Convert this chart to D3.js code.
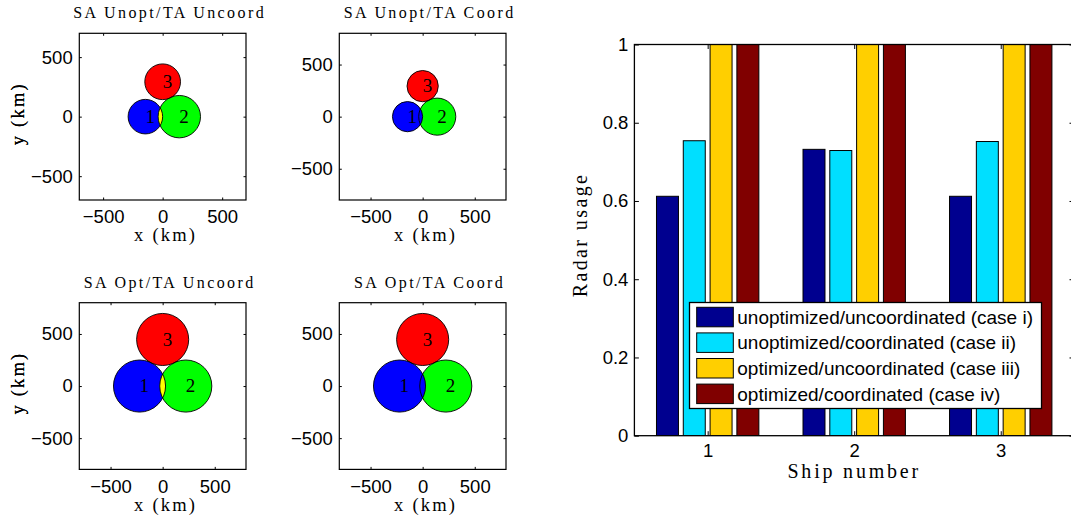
<!DOCTYPE html>
<html>
<head>
<meta charset="utf-8">
<script src="https://cdn.jsdelivr.net/npm/d3@7"></script>
<style>
body { margin: 0; background: #fff; }
svg { display: block; }
.tick text { font-family: "Liberation Sans", Arial, sans-serif; font-size: 18.5px; fill: #000; }
.tick line { stroke: #000; stroke-width: 1; }
.serif { font-family: "Liberation Serif", "Times New Roman", serif; fill: #000; }
.legend text { font-family: "Liberation Sans", Arial, sans-serif; font-size: 19px; fill: #000; }
</style>
</head>
<body>
<script>
// four scenario panels
const panelTitles = ["SA Unopt/TA Uncoord", "SA Unopt/TA Coord", "SA Opt/TA Uncoord", "SA Opt/TA Coord"];
const panelLimits = [700, 800, 800, 800];
const panelCoord = [false, true, false, true];
const panelTicks = [-500, 0, 500];

// ship positions (km) and radar ranges (km)
const shipIds = ["1", "2", "3"];
const unoptX = [-145, 140, 0];
const unoptY = [0, 0, 293];
const unoptR = [145, 178, 150];
const optX = [-222, 222, 0];
const optY = [0, 0, 447];
const optR = [250, 250, 250];

// radar usage per ship for the four cases
const shipNumbers = [1, 2, 3];
const caseNames = ["unoptimized/uncoordinated (case i)", "unoptimized/coordinated (case ii)",
                   "optimized/uncoordinated (case iii)", "optimized/coordinated (case iv)"];
const caseI = [0.612, 0.732, 0.612];
const caseII = [0.754, 0.729, 0.752];
const caseIII = [1, 1, 1];
const caseIV = [1, 1, 1];
const usageTicks = [0, 0.2, 0.4, 0.6, 0.8, 1];

const shipColors = ["#0000ff", "#00ff00", "#ff0000"];
const caseColors = ["#00008f", "#00dfff", "#ffcf00", "#800000"];

const svg = d3.select("body").append("svg")
    .attr("width", 1071)
    .attr("height", 523);

svg.append("rect").attr("width", 1071).attr("height", 523).attr("fill", "#fff");

const panelSize = 166.7;
const panelPos = [[79.3, 33.3], [339.3, 33.3], [79.3, 302.7], [339.3, 302.7]];

function drawPanel(k, xs, ys, rs) {
  let [px, py] = panelPos[k];
  let lim = panelLimits[k];
  let g = svg.append("g").attr("transform", "translate(" + px + "," + py + ")");
  let x = d3.scaleLinear().domain([-lim, lim]).range([0, panelSize]);
  let y = d3.scaleLinear().domain([-lim, lim]).range([panelSize, 0]);
  let rpx = r => x(r) - x(0);

  let ships = shipIds.map((id, i) => ({id: id, i: i, x: xs[i], y: ys[i], r: rs[i]}));

  g.append("rect")
    .attr("width", panelSize).attr("height", panelSize)
    .attr("fill", "#fff");

  // coordinated: overlaps handed to one ship by drawing order
  let order = panelCoord[k] ? [1, 2, 0] : [0, 1, 2];
  g.selectAll("circle.fill")
    .data(order.map(i => ships[i]))
    .enter().append("circle")
    .attr("class", "fill")
    .attr("cx", d => x(d.x)).attr("cy", d => y(d.y)).attr("r", d => rpx(d.r))
    .attr("fill", d => shipColors[d.i]);

  // uncoordinated: overlapping coverage shown in yellow
  if (!panelCoord[k]) {
    ships.forEach((a, i) => {
      ships.forEach((b, j) => {
        if (j <= i) return;
        let id = "clip" + k + "_" + i + "_" + j;
        svg.append("clipPath").attr("id", id)
          .append("circle")
          .attr("cx", x(b.x)).attr("cy", y(b.y)).attr("r", rpx(b.r));
        g.append("circle")
          .attr("cx", x(a.x)).attr("cy", y(a.y)).attr("r", rpx(a.r))
          .attr("fill", "#ffff00")
          .attr("clip-path", "url(#" + id + ")");
      });
    });
  }

  g.selectAll("circle.edge")
    .data(ships)
    .enter().append("circle")
    .attr("class", "edge")
    .attr("cx", d => x(d.x)).attr("cy", d => y(d.y)).attr("r", d => rpx(d.r))
    .attr("fill", "none").attr("stroke", "#000").attr("stroke-width", 0.9);

  g.selectAll("text.label")
    .data(ships)
    .enter().append("text")
    .attr("class", "serif label")
    .attr("x", d => x(d.x)).attr("y", d => y(d.y))
    .attr("dy", "0.33em")
    .style("font-size", "19px")
    .text(d => d.id);

  // axes with inward ticks
  g.append("g").attr("transform", "translate(0," + panelSize + ")")
    .call(d3.axisBottom(x).tickValues(panelTicks).tickSize(-2.5).tickPadding(10))
    .call(a => a.select(".domain").remove());
  g.append("g")
    .call(d3.axisTop(x).tickValues(panelTicks).tickSize(-2.5).tickFormat(""))
    .call(a => a.select(".domain").remove());
  g.append("g")
    .call(d3.axisLeft(y).tickValues(panelTicks).tickSize(-2.5).tickPadding(6.6))
    .call(a => a.select(".domain").remove());
  g.append("g").attr("transform", "translate(" + panelSize + ",0)")
    .call(d3.axisRight(y).tickValues(panelTicks).tickSize(-2.5).tickFormat(""))
    .call(a => a.select(".domain").remove());

  g.append("rect")
    .attr("width", panelSize).attr("height", panelSize)
    .attr("fill", "none").attr("stroke", "#000").attr("stroke-width", 1.2);

  g.append("text")
    .attr("class", "serif")
    .attr("x", panelSize / 2 + 7).attr("y", -15)
    .attr("text-anchor", "middle")
    .style("font-size", "16px").style("letter-spacing", "2.4px")
    .text(panelTitles[k]);

  g.append("text")
    .attr("class", "serif")
    .attr("x", panelSize / 2 + 3).attr("y", panelSize + 41.5)
    .attr("text-anchor", "middle")
    .style("font-size", "18.5px").style("letter-spacing", "2.2px")
    .text("x (km)");

  g.append("text")
    .attr("class", "serif")
    .attr("transform", "translate(" + (-px + 24) + "," + (panelSize / 2 - 3) + ") rotate(-90)")
    .attr("text-anchor", "middle")
    .style("font-size", "18.5px").style("letter-spacing", "2.2px")
    .text("y (km)");
}

drawPanel(0, unoptX, unoptY, unoptR);
drawPanel(1, unoptX, unoptY, unoptR);
drawPanel(2, optX, optY, optR);
drawPanel(3, optX, optY, optR);

// bar chart of radar usage
let bx0 = 634.4, bx1 = 1074, by0 = 44.5, by1 = 435.7;
let usage = [caseI, caseII, caseIII, caseIV];

let xShip = d3.scaleLinear().domain([0.5, 3.5]).range([bx0, bx1]);
let xCase = d3.scaleBand().domain(d3.range(caseNames.length))
    .range([-53.6, 53.6]).paddingInner(0.18).paddingOuter(0.09);
let yUse = d3.scaleLinear().domain([0, 1]).range([by1, by0]);

let bars = [];
shipNumbers.forEach((s, i) => {
  usage.forEach((vals, c) => bars.push({ship: s, c: c, v: vals[i]}));
});

svg.append("clipPath").attr("id", "barclip")
  .append("rect").attr("x", bx0).attr("y", by0).attr("width", bx1 - bx0).attr("height", by1 - by0);

svg.append("g").attr("clip-path", "url(#barclip)")
  .selectAll("rect")
  .data(bars)
  .enter().append("rect")
  .attr("x", d => xShip(d.ship) + xCase(d.c))
  .attr("y", d => yUse(d.v))
  .attr("width", xCase.bandwidth())
  .attr("height", d => yUse(0) - yUse(d.v))
  .attr("fill", d => caseColors[d.c])
  .attr("stroke", "#000").attr("stroke-width", 1);

svg.append("g").attr("transform", "translate(0," + by1 + ")")
  .call(d3.axisBottom(xShip).tickValues(shipNumbers).tickSize(-4.5).tickPadding(8.5).tickFormat(d3.format("d")))
  .call(a => a.select(".domain").remove());
svg.append("g").attr("transform", "translate(0," + by0 + ")")
  .call(d3.axisTop(xShip).tickValues(shipNumbers).tickSize(-4.5).tickFormat(""))
  .call(a => a.select(".domain").remove());
svg.append("g").attr("transform", "translate(" + bx0 + ",0)")
  .call(d3.axisLeft(yUse).tickValues(usageTicks).tickSize(-4.5).tickPadding(6).tickFormat(d3.format("~g")))
  .call(a => a.select(".domain").remove());
svg.append("g").attr("transform", "translate(" + bx1 + ",0)")
  .call(d3.axisRight(yUse).tickValues(usageTicks).tickSize(-4.5).tickFormat(""))
  .call(a => a.select(".domain").remove());

svg.append("rect")
  .attr("x", bx0).attr("y", by0).attr("width", bx1 - bx0).attr("height", by1 - by0)
  .attr("fill", "none").attr("stroke", "#000").attr("stroke-width", 1.3);

svg.append("text")
  .attr("class", "serif")
  .attr("x", xShip(2)).attr("y", 477.5)
  .attr("text-anchor", "middle")
  .style("font-size", "20px").style("letter-spacing", "2.8px")
  .text("Ship number");

svg.append("text")
  .attr("class", "serif")
  .attr("transform", "translate(587,235) rotate(-90)")
  .attr("text-anchor", "middle")
  .style("font-size", "20px").style("letter-spacing", "2.4px")
  .text("Radar usage");

// legend
let legend = svg.append("g").attr("class", "legend");
legend.append("rect")
  .attr("x", 689.5).attr("y", 302.5).attr("width", 352).attr("height", 106)
  .attr("fill", "#fff").attr("stroke", "#000").attr("stroke-width", 1.3);

let rows = legend.selectAll("g.row")
  .data(caseNames)
  .enter().append("g")
  .attr("class", "row")
  .attr("transform", (d, i) => "translate(696.7," + (307.3 + i * 25.6) + ")");
rows.append("rect")
  .attr("width", 36.6).attr("height", 19.5)
  .attr("fill", (d, i) => caseColors[i])
  .attr("stroke", "#000").attr("stroke-width", 1);
rows.append("text")
  .attr("x", 40.6).attr("y", 9.75).attr("dy", "0.35em")
  .text(d => d);
</script>
</body>
</html>
